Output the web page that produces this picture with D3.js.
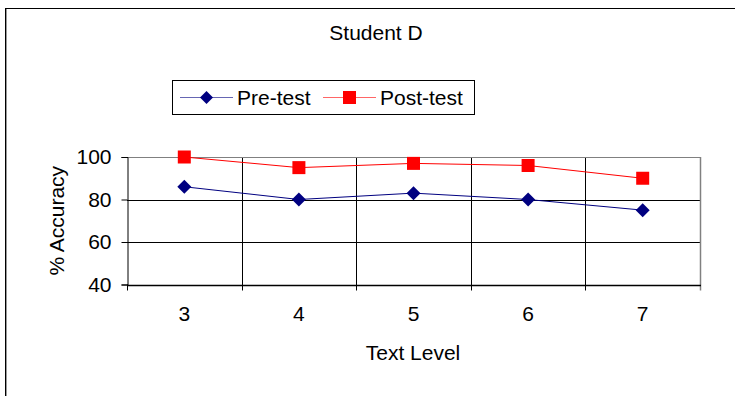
<!DOCTYPE html>
<html>
<head>
<meta charset="utf-8">
<script src="https://cdn.jsdelivr.net/npm/d3@7/dist/d3.min.js"></script>
<style>
  html, body { margin: 0; padding: 0; background: #fff; }
  svg { display: block; font-family: "Liberation Sans", Arial, sans-serif; }
</style>
</head>
<body>
<svg id="chart" width="735" height="396"></svg>
<script>
// Chart data
const title = "Student D";
const categories = ["3", "4", "5", "6", "7"];
const preTest = [86, 80, 83, 80, 75];
const postTest = [100, 95, 97, 96, 90];
const yTicks = [40, 60, 80, 100];
const seriesNames = ["Pre-test", "Post-test"];

const FS = 21;
const svg = d3.select("#chart");

// Outer chart frame (only the top and left edges fall inside the view)
svg.append("rect")
  .attr("x", 5.5).attr("y", 8.5)
  .attr("width", 740).attr("height", 400)
  .attr("fill", "none").attr("stroke", "#000").attr("stroke-width", 1);
svg.append("line")
  .attr("x1", 6.5).attr("x2", 6.5).attr("y1", 9).attr("y2", 396)
  .attr("stroke", "#999").attr("stroke-width", 1);

// Plot area
const plot = { left: 127, right: 700, top: 157, bottom: 284.5 };

const x = d3.scaleBand().domain(categories).range([plot.left, plot.right]);
const y = d3.scaleLinear().domain([40, 100]).range([plot.bottom, plot.top]);

const g = svg.append("g");

// Horizontal gridlines
g.selectAll("line.hgrid").data(yTicks.filter(d => d > 40 && d < 100)).enter()
  .append("line").attr("class", "hgrid")
  .attr("x1", plot.left).attr("x2", plot.right)
  .attr("y1", d => Math.round(y(d)) + 0.5).attr("y2", d => Math.round(y(d)) + 0.5)
  .attr("stroke", "#000").attr("stroke-width", 1);

// Vertical gridlines at category boundaries
const boundaries = categories.slice(1).map(c => x(c));
g.selectAll("line.vgrid").data(boundaries).enter()
  .append("line").attr("class", "vgrid")
  .attr("x1", d => Math.round(d) + 0.5).attr("x2", d => Math.round(d) + 0.5)
  .attr("y1", plot.top).attr("y2", plot.bottom + 6)
  .attr("stroke", "#000").attr("stroke-width", 1);

// Plot area border (top and right in grey)
g.append("line")
  .attr("x1", plot.left).attr("x2", plot.right + 0.5)
  .attr("y1", plot.top + 0.5).attr("y2", plot.top + 0.5)
  .attr("stroke", "#808080").attr("stroke-width", 1);
g.append("line")
  .attr("x1", plot.right + 0.5).attr("x2", plot.right + 0.5)
  .attr("y1", plot.top).attr("y2", plot.bottom + 6)
  .attr("stroke", "#808080").attr("stroke-width", 1.5);

// Y axis
const yAxis = d3.axisLeft(y).tickValues(yTicks).tickSize(6).tickPadding(10);
const yg = svg.append("g")
  .attr("transform", `translate(${plot.left + 0.5},0)`)
  .call(yAxis);
yg.select(".domain").attr("stroke", "#000");
yg.selectAll(".tick line").attr("stroke", "#000");
yg.selectAll(".tick text")
  .attr("font-size", FS).attr("fill", "#000")
  .attr("font-family", "Liberation Sans, Arial, sans-serif");

// X axis (line along bottom, ticks at category boundaries)
const xg = svg.append("g");
xg.append("line")
  .attr("x1", plot.left).attr("x2", plot.right + 1)
  .attr("y1", Math.round(plot.bottom) + 0.5).attr("y2", Math.round(plot.bottom) + 0.5)
  .attr("stroke", "#000").attr("stroke-width", 1.5);
xg.append("line")
  .attr("x1", plot.left + 0.5).attr("x2", plot.left + 0.5)
  .attr("y1", plot.bottom).attr("y2", plot.bottom + 6)
  .attr("stroke", "#000");
xg.selectAll("text").data(categories).enter()
  .append("text")
  .attr("x", d => x(d) + x.bandwidth() / 2)
  .attr("y", 321)
  .attr("text-anchor", "middle")
  .attr("font-size", FS)
  .text(d => d);

// Axis titles
svg.append("text")
  .attr("x", 413).attr("y", 360)
  .attr("text-anchor", "middle").attr("font-size", FS)
  .text("Text Level");
svg.append("text")
  .attr("transform", `translate(64,${(plot.top + plot.bottom) / 2}) rotate(-90)`)
  .attr("text-anchor", "middle").attr("font-size", FS)
  .text("% Accuracy");

// Chart title
svg.append("text")
  .attr("x", 376).attr("y", 40)
  .attr("text-anchor", "middle").attr("font-size", FS)
  .text(title);

// Series
const cx = c => x(c) + x.bandwidth() / 2;
const line = d3.line().x(d => cx(d.c)).y(d => y(d.v));

const preData = categories.map((c, i) => ({ c, v: preTest[i] }));
const postData = categories.map((c, i) => ({ c, v: postTest[i] }));

svg.append("path").datum(preData)
  .attr("d", line).attr("fill", "none")
  .attr("stroke", "#000080").attr("stroke-width", 1);
svg.append("path").datum(postData)
  .attr("d", line).attr("fill", "none")
  .attr("stroke", "#ff0000").attr("stroke-width", 1);

const diamond = (r) => `M0,${-r}L${r},0L0,${r}L${-r},0Z`;

svg.selectAll("path.pre").data(preData).enter()
  .append("path").attr("class", "pre")
  .attr("transform", d => `translate(${cx(d.c)},${y(d.v)})`)
  .attr("d", diamond(7))
  .attr("fill", "#000080");

svg.selectAll("rect.post").data(postData).enter()
  .append("rect").attr("class", "post")
  .attr("x", d => cx(d.c) - 6.5).attr("y", d => y(d.v) - 6.5)
  .attr("width", 13).attr("height", 13)
  .attr("fill", "#ff0000");

// Legend
const lg = svg.append("g");
lg.append("rect")
  .attr("x", 172.5).attr("y", 80.5).attr("width", 302).attr("height", 34)
  .attr("fill", "#fff").attr("stroke", "#000").attr("stroke-width", 1);

const legendItems = [
  { name: seriesNames[0], color: "#000080", x0: 180, shape: "diamond" },
  { name: seriesNames[1], color: "#ff0000", x0: 323, shape: "square" }
];
const ly = 97.5;
legendItems.forEach(it => {
  lg.append("line")
    .attr("x1", it.x0).attr("x2", it.x0 + 53)
    .attr("y1", ly).attr("y2", ly)
    .attr("stroke", it.color).attr("stroke-width", 1).attr("stroke-opacity", 0.6);
  const mx = it.x0 + 26.5;
  if (it.shape === "diamond") {
    lg.append("path")
      .attr("transform", `translate(${mx},${ly})`)
      .attr("d", diamond(6.5)).attr("fill", it.color);
  } else {
    lg.append("rect")
      .attr("x", mx - 6.5).attr("y", ly - 6.5).attr("width", 13).attr("height", 13)
      .attr("fill", it.color);
  }
  lg.append("text")
    .attr("x", it.x0 + 57).attr("y", ly + 7.5)
    .attr("font-size", FS)
    .text(it.name);
});
</script>
</body>
</html>
